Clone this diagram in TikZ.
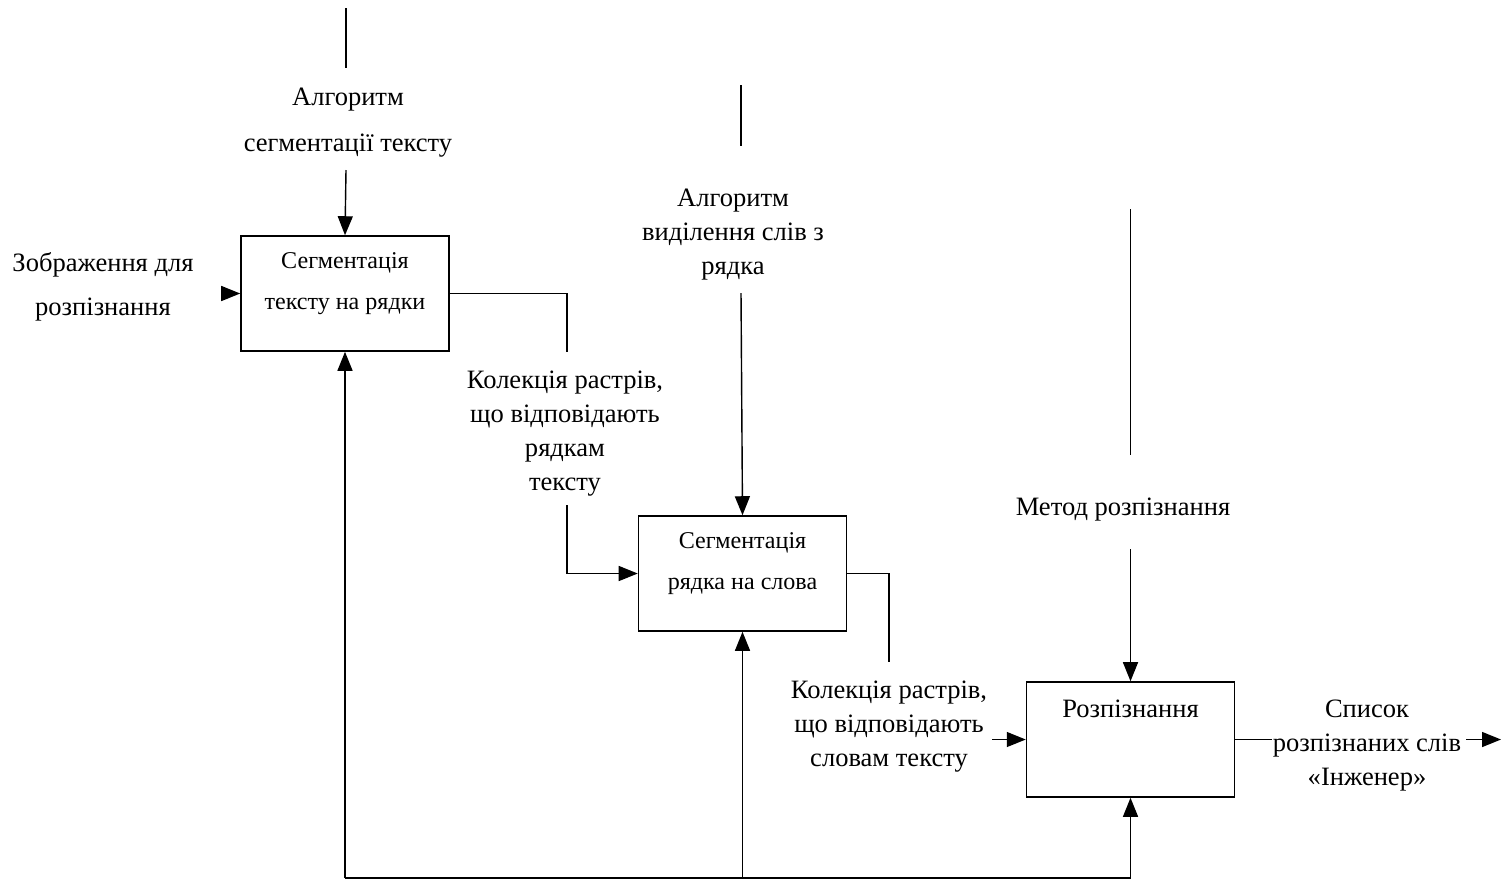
\documentclass[tikz,border=0pt]{standalone}
\usepackage{fontspec}
\setmainfont{Liberation Serif}
\usetikzlibrary{arrows.meta}

\begin{document}
\begin{tikzpicture}
[x=0.02cm, y=-0.02cm,%
  boxDecorate/.style={shape=rectangle,draw,line width=0.9pt,minimum width=4.16cm,minimum height=2.3cm,inner sep=0pt},%
  boxText/.style={anchor=north,align=center,inner sep=9.7pt,font=\fontsize{13.7}{23.2}\selectfont},%
  labelDecorate/.style={align=center,inner sep=0pt,font=\fontsize{15.1}{19.2}\selectfont},%
  lineDecorate/.style={-,line width=0.8pt},%
  arrowDecorate/.style={-{Triangle[length=0.38cm,width=0.3cm]},line width=0.8pt}]
\useasboundingbox (0,0) rectangle (1503,880);
%% function boxes
\node (seg1) at (345,293.5) [boxDecorate,label={[boxText]north:{Сегментація\\тексту на рядки}}] {};
\node (seg2) at (742.5,573.5) [boxDecorate,label={[boxText]north:{Сегментація\\рядка на слова}}] {};
\node (rec) at (1130.5,739.5) [boxDecorate,label={[boxText,inner sep=10.7pt,font=\fontsize{15.1}{19.2}\selectfont]north:{Розпізнання}}] {};
%% labels
\node (ctl1) at (348,123) [labelDecorate,font=\fontsize{15.1}{26.1}\selectfont] {Алгоритм\\сегментації тексту};
\node (inp1) at (103,287) [labelDecorate,font=\fontsize{15.1}{25}\selectfont] {Зображення для\\розпізнання};
\node (out1) at (565,433.5) [labelDecorate] {Колекція растрів,\\що відповідають\\рядкам\\тексту};
\node (ctl2) at (733,234.5) [labelDecorate] {Алгоритм\\виділення слів з\\рядка};
\node (out2) at (889,726.5) [labelDecorate] {Колекція растрів,\\що відповідають\\словам тексту};
\node (ctl3) at (1123,510) [labelDecorate] {Метод розпізнання};
\node (out3) at (1367,745.5) [labelDecorate] {Список\\розпізнаних слів\\«Інженер»};
%% free ends of the connectors
\foreach \pointname/\x/\y in {
  ctl1top/346/8, ctl1bot/346/68, ctl1arr/346/170, inp1arr/222/293.5,
  out1a/567/352, out1b/567/505,
  ctl2top/741/85, ctl2bot/741/146, ctl2arr/741/293,
  out2a/889/662, out2b/992/739.5,
  ctl3top/1130.5/209, ctl3bot/1130.5/455, ctl3arr/1130.5/549,
  out3a/1272/739.5, out3b/1466/739.5, out3c/1501/739.5,
  botL/345/878, botM/742.5/878, botR/1130.5/878}
{
  \coordinate (\pointname) at (\x,\y);
}
%% controls
\draw[lineDecorate] (ctl1top) -- (ctl1bot);
\draw[arrowDecorate] (ctl1arr) -- (seg1.north);
\draw[lineDecorate] (ctl2top) -- (ctl2bot);
\draw[arrowDecorate] (ctl2arr) -- (seg2.north);
\draw[lineDecorate] (ctl3top) -- (ctl3bot);
\draw[arrowDecorate] (ctl3arr) -- (rec.north);
%% inputs and outputs
\draw[arrowDecorate] (inp1arr) -- (seg1.west);
\draw[lineDecorate] (seg1.east) -| (out1a);
\draw[arrowDecorate] (out1b) |- (seg2.west);
\draw[lineDecorate] (seg2.east) -| (out2a);
\draw[arrowDecorate] (out2b) -- (rec.west);
\draw[lineDecorate] (rec.east) -- (out3a);
\draw[arrowDecorate] (out3b) -- (out3c);
%% mechanisms
\draw[lineDecorate] (botL) -- (botR);
\path
\foreach \startnode/\endnode in {botL/seg1, botM/seg2, botR/rec}
{
  (\startnode) edge[arrowDecorate] (\endnode.south)
};
\end{tikzpicture}
\end{document}
